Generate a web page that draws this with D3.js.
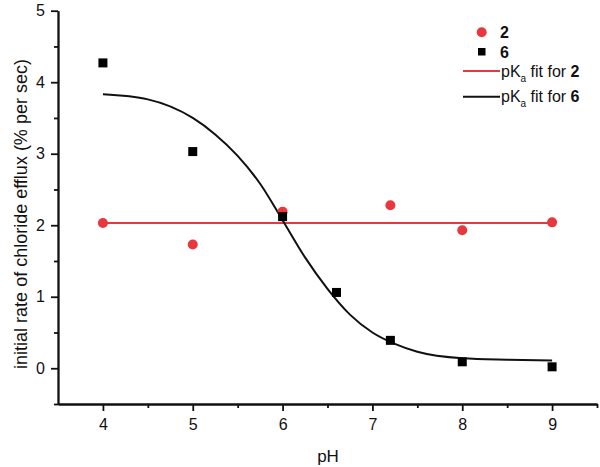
<!DOCTYPE html>
<html>
<head>
<meta charset="utf-8">
<script src="https://cdn.jsdelivr.net/npm/d3@7"></script>
<style>
  body { margin: 0; background: #fff; }
  text { font-family: "Liberation Sans", Arial, sans-serif; fill: #111; }
  .axis path, .axis line { stroke: #111; stroke-width: 1.8px; }
  .axis text { font-size: 16px; }
</style>
</head>
<body>
<svg id="chart" width="600" height="467"></svg>
<script>
// measured values
var pH2 = [4, 5, 6, 7.2, 8, 9];
var rate2 = [2.03, 1.73, 2.19, 2.28, 1.93, 2.04];

var pH6 = [4, 5, 6, 6.6, 7.2, 8, 9];
var rate6 = [4.27, 3.03, 2.12, 1.06, 0.39, 0.09, 0.02];

// fit lines
var fit2X = [4, 9];
var fit2Y = [2.03, 2.03];

var fit6X = [4, 4.5, 5, 5.25, 5.5, 5.75, 6, 6.25, 6.5, 6.75, 7, 7.25, 7.5, 8, 8.5, 9];
var fit6Y = [3.83, 3.76, 3.50, 3.27, 2.97, 2.58, 2.07, 1.55, 1.11, 0.75, 0.50, 0.34, 0.23, 0.14, 0.12, 0.11];

var xTicks = [4, 5, 6, 7, 8, 9];
var xMinor = [4.5, 5.5, 6.5, 7.5, 8.5, 9.5];
var yTicks = [0, 1, 2, 3, 4, 5];
var yMinor = [-0.5, 0.5, 1.5, 2.5, 3.5, 4.5];

var red = "#e8383d";

var svg = d3.select("#chart");

var x = d3.scaleLinear().domain([3.5, 9.5]).range([58, 597]);
var y = d3.scaleLinear().domain([-0.5, 5]).range([404, 10.7]);

// axes: minor ticks first, then majors with labels
svg.append("g").attr("class", "axis").attr("transform", "translate(0,404)")
  .call(d3.axisBottom(x).tickValues(xMinor).tickSize(4).tickSizeOuter(0).tickFormat(""));
svg.append("g").attr("class", "axis").attr("transform", "translate(0,404)")
  .call(d3.axisBottom(x).tickValues(xTicks).tickSize(7).tickSizeOuter(0).tickPadding(8).tickFormat(d3.format("d")));

svg.append("g").attr("class", "axis").attr("transform", "translate(58,0)")
  .call(d3.axisLeft(y).tickValues(yMinor).tickSize(4).tickSizeOuter(0).tickFormat(""));
svg.append("g").attr("class", "axis").attr("transform", "translate(58,0)")
  .call(d3.axisLeft(y).tickValues(yTicks).tickSize(7).tickSizeOuter(0).tickPadding(6).tickFormat(d3.format("d")));

svg.selectAll(".axis .domain").attr("stroke-width", 2);

// axis titles
svg.append("text").attr("x", 328).attr("y", 461.5).attr("text-anchor", "middle")
  .style("font-size", "17px").text("pH");
svg.append("text").attr("transform", "translate(27,214) rotate(-90)").attr("text-anchor", "middle")
  .style("font-size", "18px").text("initial rate of chloride efflux (% per sec)");

// fit lines
var line = d3.line().x(function(d) { return x(d[0]); }).y(function(d) { return y(d[1]); });

svg.append("path").datum(d3.zip(fit2X, fit2Y))
  .attr("d", line).attr("fill", "none").attr("stroke", red).attr("stroke-width", 2);

svg.append("path").datum(d3.zip(fit6X, fit6Y))
  .attr("d", line.curve(d3.curveMonotoneX)).attr("fill", "none").attr("stroke", "#111").attr("stroke-width", 2);

// points
svg.append("g").selectAll("circle").data(d3.zip(pH2, rate2)).enter()
  .append("circle")
  .attr("cx", function(d) { return x(d[0]); })
  .attr("cy", function(d) { return y(d[1]); })
  .attr("r", 5)
  .attr("fill", red);

var sq = 9;
svg.append("g").selectAll("rect").data(d3.zip(pH6, rate6)).enter()
  .append("rect")
  .attr("x", function(d) { return x(d[0]) - sq / 2; })
  .attr("y", function(d) { return y(d[1]) - sq / 2; })
  .attr("width", sq).attr("height", sq)
  .attr("fill", "#000");

// legend
var lg = svg.append("g").style("font-size", "16px");
lg.append("circle").attr("cx", 481.7).attr("cy", 32.3).attr("r", 5).attr("fill", red);
lg.append("text").attr("x", 500).attr("y", 38).style("font-weight", "bold").text("2");
lg.append("rect").attr("x", 478).attr("y", 48).attr("width", 7.5).attr("height", 7.5).attr("fill", "#000");
lg.append("text").attr("x", 500).attr("y", 57.5).style("font-weight", "bold").text("6");

[[red, 71, "2"], ["#111", 96.7, "6"]].forEach(function(e) {
  lg.append("line").attr("x1", 463).attr("x2", 500).attr("y1", e[1]).attr("y2", e[1])
    .attr("stroke", e[0]).attr("stroke-width", 2);
  var t = lg.append("text").attr("x", 501).attr("y", e[1] + 5.5);
  t.append("tspan").text("pK");
  t.append("tspan").attr("dy", 5).style("font-size", "10px").text("a");
  t.append("tspan").attr("dy", -5).text(" fit for ");
  t.append("tspan").style("font-weight", "bold").text(e[2]);
});
</script>
</body>
</html>
